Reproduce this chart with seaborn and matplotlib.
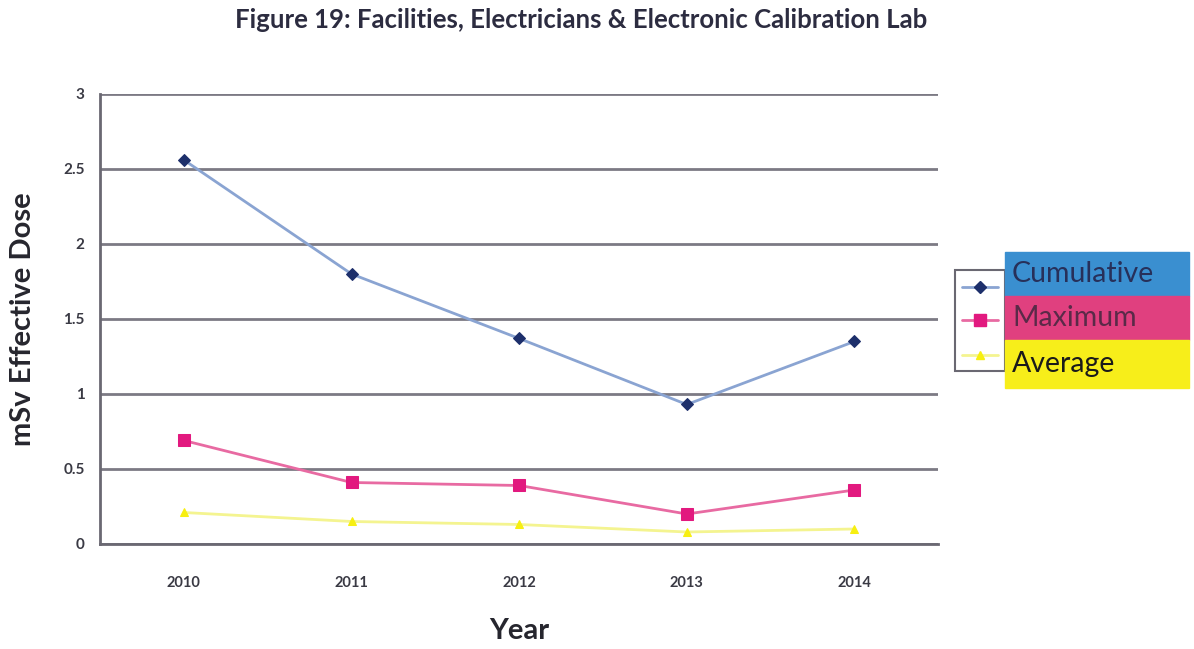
import matplotlib
matplotlib.use("Agg")
import matplotlib.pyplot as plt
from matplotlib.patches import Rectangle
from matplotlib.lines import Line2D
import seaborn as sns
import pandas as pd

years = [2010, 2011, 2012, 2013, 2014]
cumulative = [2.56, 1.80, 1.37, 0.93, 1.35]
maximum = [0.69, 0.41, 0.39, 0.20, 0.36]
average = [0.21, 0.15, 0.13, 0.08, 0.10]
series_names = ["Cumulative", "Maximum", "Average"]
y_ticks = [0, 0.5, 1, 1.5, 2, 2.5, 3]
y_tick_labels = ["0", "0.5", "1", "1.5", "2", "2.5", "3"]

sns.set_style("white")
plt.rcParams["font.family"] = ["Lato", "DejaVu Sans"]

df = pd.DataFrame({
    "Year": years * 3,
    "Dose": cumulative + maximum + average,
    "Series": [series_names[0]] * 5 + [series_names[1]] * 5 + [series_names[2]] * 5,
})

fig = plt.figure(figsize=(11.94, 6.49), dpi=100)
ax = fig.add_axes([0.0838, 0.1618, 0.7020, 0.6934])

# gridlines behind the data
for v in y_ticks:
    ax.axhline(v, color="#7c7a84", lw=2.0, zorder=0)

styles = {
    "Cumulative": dict(line="#8aa4d2", marker="D", mfc="#1d2f6b", ms=6),
    "Maximum": dict(line="#e86aa2", marker="s", mfc="#e2197f", ms=8),
    "Average": dict(line="#f4f490", marker="^", mfc="#f7ef10", ms=6),
}
handles = []
for name in series_names:
    st = styles[name]
    sub = df[df["Series"] == name]
    sns.lineplot(data=sub, x="Year", y="Dose", ax=ax, color=st["line"], lw=2,
                 marker=st["marker"], markersize=st["ms"],
                 markerfacecolor=st["mfc"], markeredgecolor=st["mfc"], zorder=3)
    handles.append(Line2D([], [], color=st["line"], lw=2, marker=st["marker"],
                          markersize=st["ms"], markerfacecolor=st["mfc"],
                          markeredgecolor=st["mfc"]))

ax.set_xlim(2009.5, 2014.5)
ax.set_ylim(0, 3)
ax.set_xticks(years)
ax.set_xticklabels([str(y) for y in years], fontsize=10.5, fontweight="bold", color="#3a3a44")
ax.set_xticks([2009.5 + i for i in range(6)], minor=True)
ax.set_yticks(y_ticks)
ax.set_yticklabels(y_tick_labels, fontsize=11, fontweight="bold", color="#3a3a44")
ax.tick_params(axis="x", which="major", length=0, pad=23)
ax.tick_params(axis="x", which="minor", length=5, width=1.5, color="#55535c", direction="out")
ax.tick_params(axis="y", length=5, width=1.5, color="#55535c", direction="out", pad=6)

for s in ["top", "right"]:
    ax.spines[s].set_visible(False)
for s in ["left", "bottom"]:
    ax.spines[s].set_color("#6a6872")
    ax.spines[s].set_linewidth(2)

ax.set_xlabel("Year", fontsize=21, fontweight="bold", color="#26262e", labelpad=20)
ax.set_ylabel("mSv Effective Dose", fontsize=21, fontweight="bold", color="#26262e", labelpad=20)
fig.suptitle("Figure 19: Facilities, Electricians & Electronic Calibration Lab",
             x=0.487, y=0.987, fontsize=18.5, fontweight="bold", color="#2c2c40")

# legend: bracket frame with marker samples and coloured label panels
W, H = 1194, 649
def fx(px):
    return px / W
def fy(py):
    return 1 - py / H

fig.patches.append(Rectangle((fx(955), fy(371)), fx(1005) - fx(955), fy(270) - fy(371),
                             transform=fig.transFigure, fill=False, ec="#6a6872", lw=1.5,
                             zorder=1))
panel_colors = ["#3a8fd0", "#e0407f", "#f7ee1a"]
panel_tops = [252, 296, 340]
panel_bottoms = [296, 340, 388]
for c, t, b in zip(panel_colors, panel_tops, panel_bottoms):
    fig.patches.append(Rectangle((fx(1005), fy(b)), fx(1189) - fx(1005), fy(t) - fy(b),
                                 transform=fig.transFigure, color=c, zorder=2))

text_colors = ["#27305a", "#5a2a48", "#1a1a1a"]
for name, tc, t, b in zip(series_names, text_colors, panel_tops, panel_bottoms):
    fig.text(fx(1012), fy((t + b) / 2), name, fontsize=20.5, color=tc,
             ha="left", va="center", zorder=4)

row_y = [287, 320, 355]
for h, ry in zip(handles, row_y):
    ln = Line2D([fx(962), fx(998)], [fy(ry), fy(ry)], transform=fig.transFigure,
                color=h.get_color(), lw=2, zorder=3)
    mk = Line2D([fx(980)], [fy(ry)], transform=fig.transFigure, marker=h.get_marker(),
                markersize=h.get_markersize(), markerfacecolor=h.get_markerfacecolor(),
                markeredgecolor=h.get_markeredgecolor(), lw=0, zorder=4)
    fig.lines.extend([ln, mk])

fig.savefig("out.png", dpi=100)
